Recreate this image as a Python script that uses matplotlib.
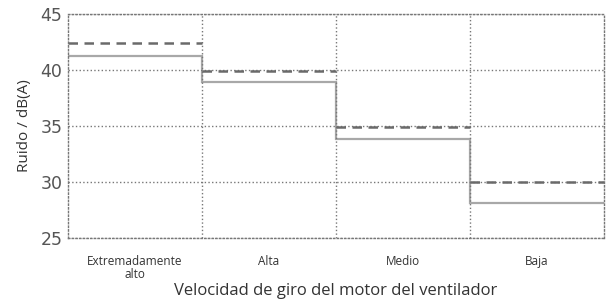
import matplotlib
matplotlib.use("Agg")
import matplotlib.pyplot as plt

categories = ["Extremadamente\nalto", "Alta", "Medio", "Baja"]
ruido_dashed = [42.4, 39.9, 34.9, 30.0]
ruido_solid = [41.3, 38.9, 33.8, 28.1]
y_ticks = [25, 30, 35, 40, 45]

plt.rcParams['font.family'] = ['Open Sans', 'DejaVu Sans']

fig = plt.figure(figsize=(6.06, 3.0), dpi=100)
ax = fig.add_axes([0.112, 0.207, 0.885, 0.746])

edges = [i - 0.5 for i in range(len(categories) + 1)]
ax.stairs(ruido_solid, edges, color='#a8a8a8', linewidth=1.6, baseline=None)
# dashed series: flat segments only, no vertical joins
ax.hlines(ruido_dashed, edges[:-1], edges[1:], color='#6a6a6a', linewidth=1.8,
          linestyles=[(0, (3.8, 2.6))])

ax.set_xlim(edges[0], edges[-1])
ax.set_ylim(25, 45)
ax.set_yticks(y_ticks)
ax.set_xticks(range(len(categories)))
ax.set_xticklabels(categories, fontsize=8.5, color='#333333', linespacing=1.0)
ax.set_xticks(edges[1:-1], minor=True)
ax.tick_params(which='both', length=0)
ax.tick_params(axis='x', pad=12)
ax.tick_params(axis='y', pad=4)
for lab in ax.get_yticklabels():
    lab.set_family('DejaVu Sans')
    lab.set_fontsize(12.5)
    lab.set_color('#555555')

ax.grid(True, which='minor', axis='x', color='#777777', linestyle=':', linewidth=1.0)
ax.grid(True, which='major', axis='y', color='#777777', linestyle=':', linewidth=1.0)
for s in ax.spines.values():
    s.set_linestyle(':')
    s.set_color('#777777')
    s.set_linewidth(1.0)

ax.set_ylabel('Ruido / dB(A)', fontsize=11, color='#333333', labelpad=6)
ax.set_xlabel('Velocidad de giro del motor del ventilador', fontsize=12,
              color='#333333', labelpad=2)

fig.savefig('out.png', dpi=100)
